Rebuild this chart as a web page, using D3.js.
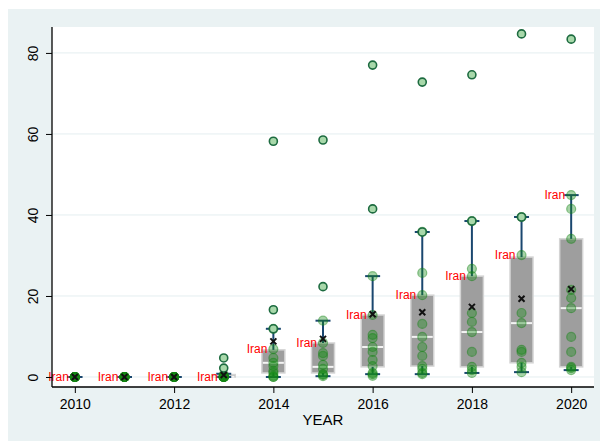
<!DOCTYPE html>
<html>
<head>
<meta charset="utf-8">
<script src="https://cdn.jsdelivr.net/npm/d3@7"></script>
<style>
  body { margin: 0; background: #fff; }
  text { font-family: "Liberation Sans", Arial, sans-serif; }
</style>
</head>
<body>
<div id="my_chart"></div>
<script>
const width = 600
const height = 441

// values, one entry per year
const years   = [2010, 2011, 2012, 2013, 2014, 2015, 2016, 2017, 2018, 2019, 2020]
const q1      = [0, 0, 0, 0,   1.0, 1.0, 2.5, 2.7, 2.5, 3.5, 2.5]
const median  = [0, 0, 0, 0.1, 3.5, 2.5, 7.4, 9.9, 11.1, 13.3, 17.0]
const q3      = [0, 0, 0, 0.6, 6.7, 8.4, 15.3, 20.2, 24.9, 29.6, 34.1]
const whiskLo = [0, 0, 0, 0,   0,   0.2, 0.7, 0.7, 1.0, 1.2, 1.7]
const whiskHi = [0, 0, 0, 0.8, 11.9, 13.9, 24.9, 35.8, 38.5, 39.5, 44.9]
const means   = [0, 0, 0, 0.5, 8.8, 9.4, 15.5, 16.0, 17.3, 19.3, 21.7]
const iran    = [0, 0, 0, 0,   6.9, 8.4, 15.3, 20.2, 24.9, 30.1, 44.9]

// countries inside the whiskers
const points = [
  [0, 0, 0, 0, 0, 0, 0, 0, 0, 0],
  [0, 0, 0, 0, 0, 0, 0, 0, 0, 0],
  [0, 0, 0, 0, 0, 0, 0, 0, 0, 0],
  [0, 0, 0, 0, 0, 0, 0, 0, 0.3, 0.6],
  [0, 0, 0.3, 1.0, 1.5, 2.7, 3.5, 4.7, 6.9, 11.9],
  [0.2, 0.5, 0.7, 2.0, 3.0, 5.2, 5.9, 8.4, 13.9],
  [0.3, 0.7, 1.0, 2.7, 4.2, 6.2, 7.4, 9.6, 10.4, 15.3, 24.9],
  [0.7, 1.0, 2.0, 2.7, 5.2, 7.4, 9.9, 13.1, 20.2, 25.7, 35.8],
  [1.0, 1.7, 2.5, 6.2, 11.1, 13.6, 15.8, 24.9, 26.7, 38.5],
  [1.2, 2.5, 3.5, 6.2, 6.7, 13.3, 15.8, 30.1, 39.5],
  [1.7, 2.2, 2.5, 6.2, 9.9, 17.0, 19.5, 21.5, 34.1, 41.5, 44.9]
]
// ringed markers (outside values and some whisker ends)
const farPoints = [
  [], [], [],
  [2.2, 4.7],
  [11.9, 16.6, 58.2],
  [22.3, 58.5],
  [41.5, 77.0],
  [35.8, 72.8],
  [38.5, 74.6],
  [39.5, 84.7],
  [83.4]
]

const yTicks = [0, 20, 40, 60, 80]
const xTicks = [2010, 2012, 2014, 2016, 2018, 2020]

const svg = d3.select("#my_chart")
  .append("svg")
    .attr("width", width)
    .attr("height", height)

// outer graph region
svg.append("rect")
  .attr("x", 8).attr("y", 9)
  .attr("width", width - 8).attr("height", height - 9)
  .attr("fill", "#eaf2f3")

const pLeft = 52, pRight = 594, pTop = 27, pBottom = 387

svg.append("rect")
  .attr("x", pLeft).attr("y", pTop)
  .attr("width", pRight - pLeft).attr("height", pBottom - pTop)
  .attr("fill", "#ffffff")

const x = d3.scaleLinear()
  .domain([2009.54, 2020.46])
  .range([pLeft, pRight])

const y = d3.scaleLinear()
  .domain([-2.47, 86.4])
  .range([pBottom, pTop])

// grid
svg.append("g")
  .selectAll("line")
  .data(yTicks)
  .join("line")
    .attr("x1", pLeft).attr("x2", pRight)
    .attr("y1", d => y(d)).attr("y2", d => y(d))
    .attr("stroke", "#e4eef0")
    .attr("stroke-width", 1)

const data = years.map((yr, i) => ({
  year: yr, q1: q1[i], med: median[i], q3: q3[i],
  lo: whiskLo[i], hi: whiskHi[i], mean: means[i], iran: iran[i],
  pts: points[i], far: farPoints[i]
}))

const boxW = 23, capW = 15

const g = svg.append("g")

// boxes
g.selectAll(".box")
  .data(data)
  .join("rect")
    .attr("class", "box")
    .attr("x", d => x(d.year) - boxW / 2)
    .attr("width", boxW)
    .attr("y", d => y(d.q3))
    .attr("height", d => y(d.q1) - y(d.q3))
    .attr("fill", "#9e9e9e")
    .attr("stroke", "#d4d4d4")
    .attr("stroke-width", 1.5)

g.selectAll(".med")
  .data(data.filter(d => d.q3 > d.q1))
  .join("line")
    .attr("class", "med")
    .attr("x1", d => x(d.year) - boxW / 2 + 1)
    .attr("x2", d => x(d.year) + boxW / 2 - 1)
    .attr("y1", d => y(d.med)).attr("y2", d => y(d.med))
    .attr("stroke", "#f4f4f4")
    .attr("stroke-width", 2)

// whiskers
const navy = "#1a476f"
g.selectAll(".wup")
  .data(data)
  .join("line")
    .attr("class", "wup")
    .attr("x1", d => x(d.year)).attr("x2", d => x(d.year))
    .attr("y1", d => y(d.q3)).attr("y2", d => y(d.hi))
    .attr("stroke", navy).attr("stroke-width", 2)
g.selectAll(".wdn")
  .data(data)
  .join("line")
    .attr("class", "wdn")
    .attr("x1", d => x(d.year)).attr("x2", d => x(d.year))
    .attr("y1", d => y(d.q1)).attr("y2", d => y(d.lo))
    .attr("stroke", navy).attr("stroke-width", 2)
const caps = data.flatMap(d => [{year: d.year, v: d.hi}, {year: d.year, v: d.lo}])
g.selectAll(".cap")
  .data(caps)
  .join("line")
    .attr("class", "cap")
    .attr("x1", d => x(d.year) - capW / 2).attr("x2", d => x(d.year) + capW / 2)
    .attr("y1", d => y(d.v)).attr("y2", d => y(d.v))
    .attr("stroke", navy).attr("stroke-width", 2)

// points
const pts = data.flatMap(d => d.pts.map(v => ({year: d.year, v: v})))
g.selectAll(".pt")
  .data(pts)
  .join("circle")
    .attr("class", "pt")
    .attr("cx", d => x(d.year))
    .attr("cy", d => y(d.v))
    .attr("r", 4.5)
    .attr("fill", "rgba(20,140,20,0.38)")
    .attr("stroke", "rgba(20,130,20,0.45)")
    .attr("stroke-width", 1.2)

const far = data.flatMap(d => d.far.map(v => ({year: d.year, v: v})))
g.selectAll(".far")
  .data(far)
  .join("circle")
    .attr("class", "far")
    .attr("cx", d => x(d.year))
    .attr("cy", d => y(d.v))
    .attr("r", 4)
    .attr("fill", "#a8d8aa")
    .attr("stroke", "#1d6b40")
    .attr("stroke-width", 1.6)

// mean markers
const xs = 3
g.selectAll(".mean")
  .data(data)
  .join("path")
    .attr("class", "mean")
    .attr("d", d => {
      const cx = x(d.year), cy = y(d.mean)
      return `M${cx - xs},${cy - xs}L${cx + xs},${cy + xs}M${cx - xs},${cy + xs}L${cx + xs},${cy - xs}`
    })
    .attr("stroke", "#111")
    .attr("stroke-width", 2)
    .attr("fill", "none")

// Iran labels
g.selectAll(".lab")
  .data(data)
  .join("text")
    .attr("class", "lab")
    .attr("x", d => x(d.year) - 6)
    .attr("y", d => y(d.iran))
    .attr("dy", "0.35em")
    .attr("text-anchor", "end")
    .style("font-size", "12px")
    .attr("fill", "#ff0000")
    .text("Iran")

// axes
const yAxis = svg.append("g")
  .attr("transform", `translate(${pLeft},0)`)
  .call(d3.axisLeft(y).tickValues(yTicks).tickSize(6).tickSizeOuter(0).tickPadding(8))
yAxis.select(".domain").attr("d", `M0,${pTop}V${pBottom}`).attr("stroke-width", 1.3)
yAxis.selectAll("text")
  .attr("transform", "rotate(-90)")
  .attr("x", 0).attr("y", -14).attr("dy", 0)
  .attr("text-anchor", "middle")
  .style("font-size", "14px")
  .attr("fill", "#000")

const xAxis = svg.append("g")
  .attr("transform", `translate(0,${pBottom})`)
  .call(d3.axisBottom(x).tickValues(xTicks).tickFormat(d3.format("d")).tickSize(6).tickSizeOuter(0).tickPadding(6))
xAxis.select(".domain").attr("d", `M${pLeft},0H${pRight}`).attr("stroke-width", 1.3)
xAxis.selectAll("text")
  .style("font-size", "14px")
  .attr("fill", "#000")

svg.append("text")
  .attr("x", 323).attr("y", 425)
  .attr("text-anchor", "middle")
  .style("font-size", "15px")
  .text("YEAR")
</script>
</body>
</html>
